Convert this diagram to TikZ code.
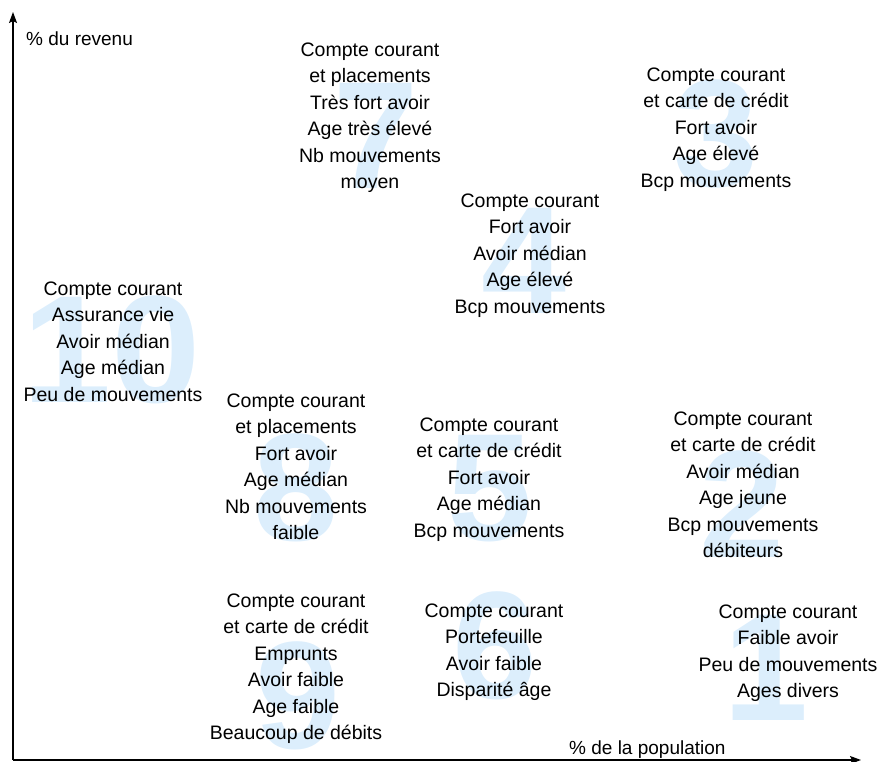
\documentclass[tikz,border=0pt]{standalone}
\usepackage{fontspec}
\setmainfont{Liberation Sans}
\newfontfamily\digitfont{Liberation Sans Bold}
\newcommand{\bigdigit}[1]{{\digitfont\fontsize{153}{153}\selectfont #1}}
\usetikzlibrary{arrows.meta}
\definecolor{digitblue}{RGB}{220,238,252}
\begin{document}
\begin{tikzpicture}[x=1pt,y=-1pt,
  txt/.style={align=center, anchor=north, inner sep=0pt, yshift=18.55pt, font=\fontsize{19.5}{26.5}\selectfont},
  digit/.style={anchor=base, inner sep=0pt, text=digitblue},
  axisline/.style={line width=1.2pt, -{Stealth[length=11pt,width=8pt,inset=2pt]}},
  axlabel/.style={anchor=base west, inner sep=0pt, font=\fontsize{19}{23}\selectfont}]
\useasboundingbox (0,0) rectangle (877,762);

% big background digits
\node[digit] (d7) at (376,188) {\bigdigit{7}};
\node[digit] (d3) at (716,186) {\bigdigit{3}};
\node[digit] (d4) at (524,313) {\bigdigit{4}};
\node[digit, xscale=1.05] (d10) at (112,402) {\bigdigit{10}};
\node[digit] (d8) at (296,540) {\bigdigit{8}};
\node[digit] (d5) at (490,540) {\bigdigit{5}};
\node[digit] (d2) at (742,557) {\bigdigit{2}};
\node[digit] (d1) at (766,720) {\bigdigit{1}};
\node[digit] (d9) at (298,748) {\bigdigit{9}};
\node[digit] (d6) at (495,698) {\bigdigit{6}};

% axes
\coordinate (O) at (13,760);
\coordinate (ytop) at (13,12);
\coordinate (xend) at (861,760);
\draw[axisline] (O) -- (ytop);
\draw[axisline] (O) -- (xend);
\node[axlabel] (ylab) at (26,46) {\% du revenu};
\node[axlabel] (xlab) at (569,754) {\% de la population};

% cluster descriptions
\node[txt] (c7) at (370,56) {\strut Compte courant\\ et placements\\ Très fort avoir\\ Age très élevé\\ Nb mouvements\\ moyen};
\node[txt] (c3) at (716,81) {\strut Compte courant\\ et carte de crédit\\ Fort avoir\\ Age élevé\\ Bcp mouvements};
\node[txt] (c4) at (530,207) {\strut Compte courant\\ Fort avoir\\ Avoir médian\\ Age élevé\\ Bcp mouvements};
\node[txt] (c10) at (113,295) {\strut Compte courant\\ Assurance vie\\ Avoir médian\\ Age médian\\ Peu de mouvements};
\node[txt] (c8) at (296,407) {\strut Compte courant\\ et placements\\ Fort avoir\\ Age médian\\ Nb mouvements\\ faible};
\node[txt] (c5) at (489,431) {\strut Compte courant\\ et carte de crédit\\ Fort avoir\\ Age médian\\ Bcp mouvements};
\node[txt] (c2) at (743,425) {\strut Compte courant\\ et carte de crédit\\ Avoir médian\\ Age jeune\\ Bcp mouvements\\ débiteurs};
\node[txt] (c9) at (296,607) {\strut Compte courant\\ et carte de crédit\\ Emprunts\\ Avoir faible\\ Age faible\\ Beaucoup de débits};
\node[txt] (c6) at (494,617) {\strut Compte courant\\ Portefeuille\\ Avoir faible\\ Disparité âge};
\node[txt] (c1) at (788,618) {\strut Compte courant\\ Faible avoir\\ Peu de mouvements\\ Ages divers};
\end{tikzpicture}
\end{document}
